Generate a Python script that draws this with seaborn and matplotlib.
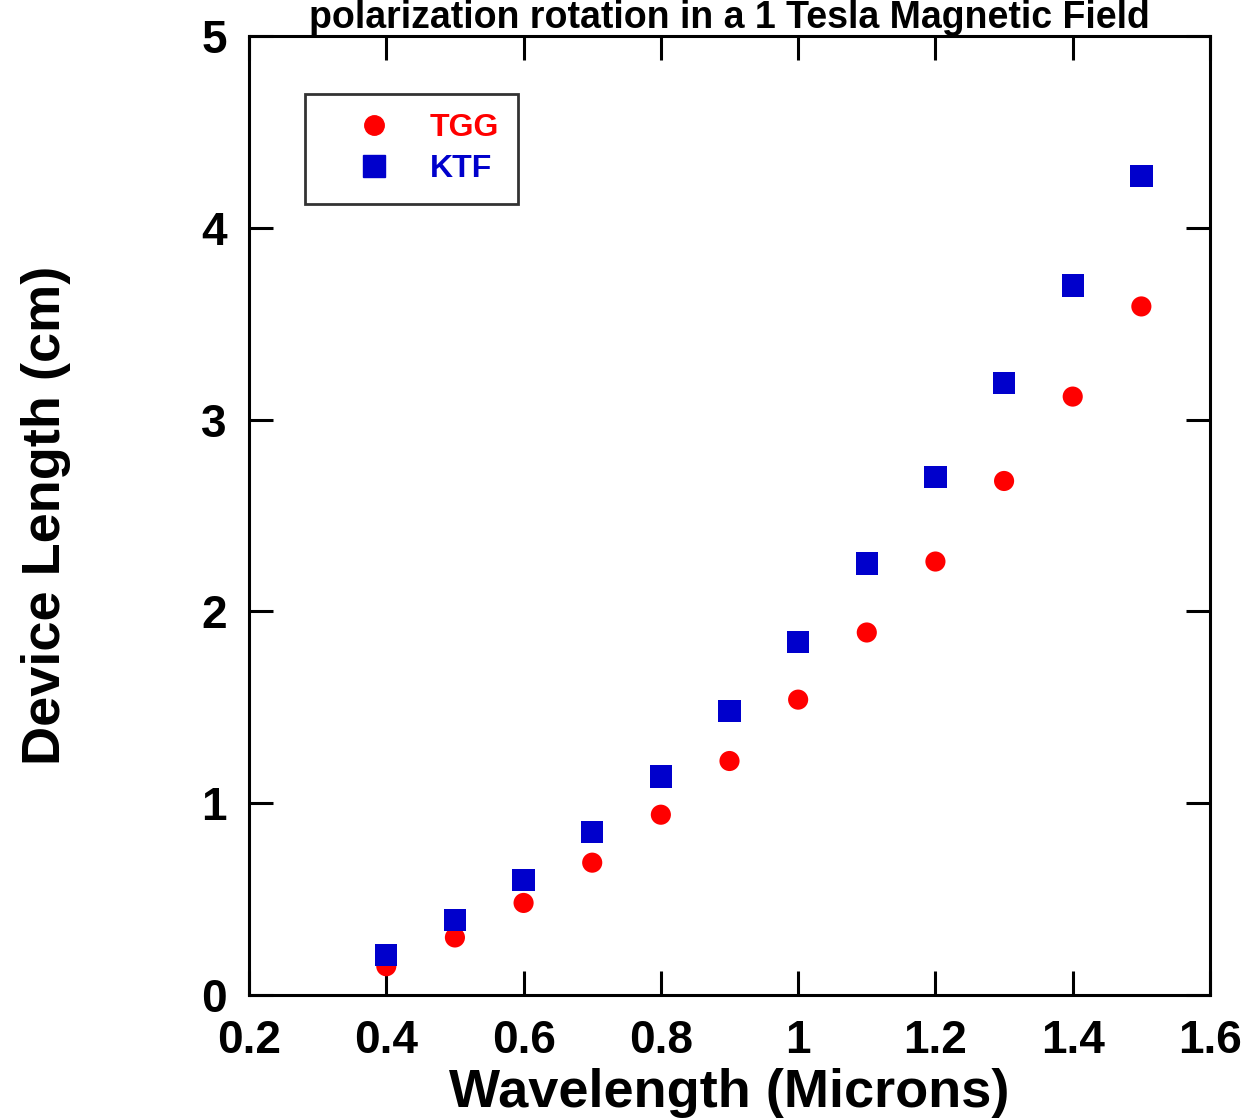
import matplotlib
matplotlib.use("Agg")
import matplotlib.pyplot as plt
import seaborn as sns
import pandas as pd
from matplotlib.lines import Line2D

wavelength = [0.4, 0.5, 0.6, 0.7, 0.8, 0.9, 1.0, 1.1, 1.2, 1.3, 1.4, 1.5]
tgg = [0.15, 0.30, 0.48, 0.69, 0.94, 1.22, 1.54, 1.89, 2.26, 2.68, 3.12, 3.59]
ktf = [0.21, 0.39, 0.60, 0.85, 1.14, 1.48, 1.84, 2.25, 2.70, 3.19, 3.70, 4.27]
series_names = ["TGG", "KTF"]
x_ticks = [0.2, 0.4, 0.6, 0.8, 1.0, 1.2, 1.4, 1.6]
x_tick_labels = ["0.2", "0.4", "0.6", "0.8", "1", "1.2", "1.4", "1.6"]
y_ticks = [0, 1, 2, 3, 4, 5]

df = pd.DataFrame({
    "Wavelength": wavelength * 2,
    "Length": tgg + ktf,
    "Material": [series_names[0]] * len(tgg) + [series_names[1]] * len(ktf),
})

sns.set_theme(style="white")
plt.rcParams['font.family'] = ['Liberation Sans', 'DejaVu Sans']
plt.rcParams['font.weight'] = 'bold'
plt.rcParams['text.color'] = 'black'
plt.rcParams['axes.labelcolor'] = 'black'
plt.rcParams['xtick.color'] = 'black'
plt.rcParams['ytick.color'] = 'black'

fig = plt.figure(figsize=(12.47, 11.18), dpi=100)
ax = fig.add_axes([249/1247, 1 - 995/1118, (1210-249)/1247, (995-36)/1118])

colors = {"TGG": "#ff0000", "KTF": "#0000cc"}
markers = {"TGG": "o", "KTF": "s"}
sizes = {"TGG": 210, "KTF": 260}
for name in series_names:
    sub = df[df["Material"] == name]
    sns.scatterplot(data=sub, x="Wavelength", y="Length", color=colors[name],
                    marker=markers[name], s=sizes[name], edgecolor="none",
                    linewidth=0, ax=ax, label=name, legend=False)

ax.set_xlim(0.2, 1.6)
ax.set_ylim(0, 5)
ax.set_xticks(x_ticks)
ax.set_xticklabels(x_tick_labels)
ax.set_yticks(y_ticks)
ax.tick_params(direction="in", length=17, width=2.2, color="black",
               top=True, right=True, bottom=True, left=True,
               labelsize=33, labelcolor="black")
ax.tick_params(axis="x", pad=17)
ax.tick_params(axis="y", pad=16)
for lab in ax.get_xticklabels() + ax.get_yticklabels():
    lab.set_fontweight("bold")
for sp in ax.spines.values():
    sp.set_color("black")
    sp.set_linewidth(2.2)

ax.set_xlabel("Wavelength (Microns)", fontsize=39, fontweight="bold",
              labelpad=4, color="black")
ax.set_ylabel("Device Length (cm)", fontsize=39, fontweight="bold",
              labelpad=94, color="black")

fig.text(0.585, 1.0, "polarization rotation in a 1 Tesla Magnetic Field",
         ha="center", va="top", fontsize=27, fontweight="bold", color="black")

handles = [Line2D([], [], linestyle="none", marker=markers[n], color=colors[n],
                  markersize=14 if n == "TGG" else 16) for n in series_names]
leg = ax.legend(handles, series_names, loc="upper left",
                bbox_to_anchor=((305-249)/961, (995-94)/959),
                frameon=True, fancybox=False, edgecolor="black",
                prop={"size": 23, "weight": "bold"}, handletextpad=0.2,
                borderpad=0.6, labelspacing=0.35, borderaxespad=0,
                handlelength=3.1)
leg.get_frame().set_linewidth(2)
for t, n in zip(leg.get_texts(), series_names):
    t.set_color(colors[n])

fig.savefig("out.png", dpi=100)
